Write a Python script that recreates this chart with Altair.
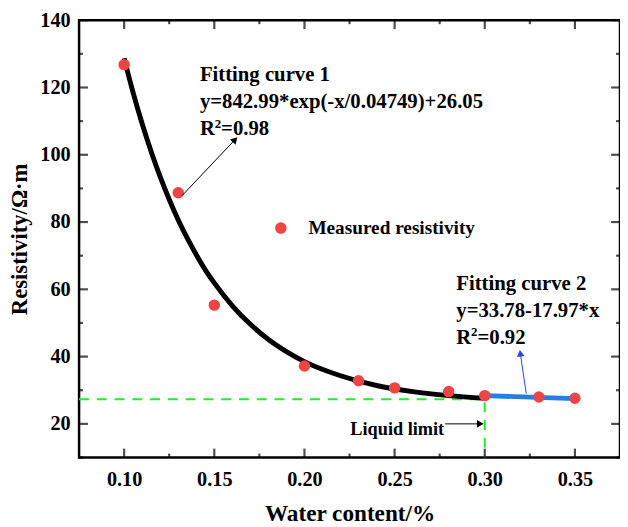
import altair as alt
import pandas as pd

FONT = "Liberation Serif"

# measured points
water = [0.10, 0.13, 0.15, 0.20, 0.23, 0.25, 0.28, 0.30, 0.33, 0.35]
resist = [126.8, 88.7, 55.3, 37.2, 32.8, 30.7, 29.6, 28.4, 28.0, 27.6]

# fitting curve 1
c1_x = [0.10, 0.105, 0.11, 0.115, 0.12, 0.125, 0.13, 0.135, 0.14, 0.145, 0.15,
        0.16, 0.17, 0.18, 0.19, 0.20, 0.22, 0.24, 0.26, 0.28, 0.30]
c1_y = [128.7, 118.4, 109.2, 100.9, 93.4, 86.7, 80.6, 75.2, 70.3, 65.8, 61.9,
        55.1, 49.6, 45.1, 41.5, 38.5, 34.3, 31.4, 29.6, 28.4, 27.6]

# fitting curve 2
c2_x = [0.30, 0.35]
c2_y = [28.4, 27.5]

# liquid limit guide
ll_x = [0.075, 0.30, 0.30]
ll_y = [27.3, 27.3, 10]

x_major = [0.10, 0.15, 0.20, 0.25, 0.30, 0.35]
x_minor = [0.125, 0.175, 0.225, 0.275, 0.325, 0.375]
y_major = [20, 40, 60, 80, 100, 120, 140]
y_minor = [10, 30, 50, 70, 90, 110, 130]

W, H = 548, 443
xs = alt.Scale(domain=[0.075, 0.375], nice=False, zero=False)
ys = alt.Scale(domain=[10, 140], nice=False, zero=False)

pts = pd.DataFrame({"x": water, "y": resist})
c1 = pd.DataFrame({"x": c1_x, "y": c1_y, "o": list(range(len(c1_x)))})
c2 = pd.DataFrame({"x": c2_x, "y": c2_y})
ll = pd.DataFrame({"x": ll_x, "y": ll_y, "o": [0, 1, 2]})

X = lambda f: alt.X(f, scale=xs)
Y = lambda f: alt.Y(f, scale=ys)

base_axes = alt.Chart(pts).mark_point(opacity=0).encode(
    x=alt.X("x:Q", scale=xs, title="Water content/%",
            axis=alt.Axis(values=x_major, format=".2f", domain=False, ticks=False, grid=False,
                          labelFont=FONT, labelFontSize=20.5, labelFontWeight="bold", labelColor="black",
                          labelPadding=12, titleFont=FONT, titleFontSize=23.5, titleFontWeight="bold",
                          titleColor="black", titlePadding=12)),
    y=alt.Y("y:Q", scale=ys, title="Resistivity/Ω·m",
            axis=alt.Axis(values=y_major, domain=False, ticks=False, grid=False,
                          labelFont=FONT, labelFontSize=20.5, labelFontWeight="bold", labelColor="black",
                          labelPadding=9, titleFont=FONT, titleFontSize=23, titleFontWeight="bold",
                          titleColor="black", titlePadding=8)),
)

guide = alt.Chart(ll).mark_line(color="#22ee22", strokeWidth=2, strokeDash=[10, 8]).encode(
    x=X("x:Q"), y=Y("y:Q"), order="o:Q")

curve1 = alt.Chart(c1).mark_line(color="black", strokeWidth=5, interpolate="monotone").encode(
    x=X("x:Q"), y=Y("y:Q"), order="o:Q")

curve2 = alt.Chart(c2).mark_line(color="#2b7ddc", strokeWidth=5).encode(
    x=X("x:Q"), y=Y("y:Q"))

points = alt.Chart(pts).mark_circle(color="#ee4444", size=135, opacity=1).encode(
    x=X("x:Q"), y=Y("y:Q"))

# arrows
arr = pd.DataFrame({
    "x": [0.1322, 0.323, 0.278], "y": [87.9, 29.0, 20.0],
    "x2": [0.1615, 0.3197, 0.2975], "y2": [104.5, 41.0, 20.0],
    "c": ["black", "#2244ee", "black"], "a": [43.5, 352.0, 90.0],
})
arrow_lines = alt.Chart(arr).mark_rule(strokeWidth=1).encode(
    x=X("x:Q"), y=Y("y:Q"), x2="x2:Q", y2="y2:Q", color=alt.Color("c:N", scale=None))
arrow_heads = alt.Chart(arr).mark_point(shape="triangle-up", filled=True, size=60, opacity=1).encode(
    x=X("x2:Q"), y=Y("y2:Q"),
    color=alt.Color("c:N", scale=None), angle=alt.Angle("a:Q", scale=None))

# texts
txt = pd.DataFrame({
    "x": [0.142, 0.142, 0.2842, 0.2842],
    "y": [123.6, 115.7, 61.5, 53.6],
    "t": ["Fitting curve 1", "y=842.99*exp(-x/0.04749)+26.05",
          "Fitting curve 2", "y=33.78-17.97*x"],
})
def tmark(df, size, align="left", dx=0, dy=0):
    return alt.Chart(df).mark_text(align=align, baseline="middle", font=FONT, fontSize=size,
                                   fontWeight="bold", color="black", dx=dx, dy=dy).encode(
        x=X("x:Q"), y=Y("y:Q"), text="t:N")

texts = tmark(txt, 21)

r2 = pd.DataFrame({"x": [0.142, 0.2842], "y": [107.5, 45.4]})
r2_R = tmark(r2.assign(t="R"), 21)
r2_sup = tmark(r2.assign(t="2"), 13, dx=15, dy=-6)
r2_val = tmark(r2.assign(t=["=0.98", "=0.92"]), 21, dx=21.5)

leg_txt = pd.DataFrame({"x": [0.2022], "y": [78.2], "t": ["Measured resistivity"]})
leg_text = tmark(leg_txt, 19.5)

ll_txt = pd.DataFrame({"x": [0.2775], "y": [18.4], "t": ["Liquid limit"]})
ll_text = tmark(ll_txt, 18.5, align="right")

leg = pd.DataFrame({"x": [0.1869], "y": [78.2]})
leg_dot = alt.Chart(leg).mark_circle(color="#ee4444", size=135, opacity=1).encode(
    x=X("x:Q"), y=Y("y:Q"))

# inward ticks
xmj = pd.DataFrame({"v": x_major})
xmn = pd.DataFrame({"v": x_minor})
ymj = pd.DataFrame({"v": y_major})
ymn = pd.DataFrame({"v": y_minor})

def xt(df, size, ypix):
    return alt.Chart(df).mark_tick(orient="vertical", size=size, thickness=2.2, color="black").encode(
        x=X("v:Q"), y=alt.value(ypix))

def yt(df, size, xpix):
    return alt.Chart(df).mark_tick(orient="horizontal", size=size, thickness=2.2, color="black").encode(
        y=Y("v:Q"), x=alt.value(xpix))

ticks = [
    xt(xmj, 9, H - 4.5), xt(xmn, 4, H - 2), xt(xmj, 9, 4.5), xt(xmn, 4, 2),
    yt(ymj, 9, 4.5), yt(ymn, 4, 2), yt(ymj, 9, W - 4.5), yt(ymn, 4, W - 2),
]

chart = alt.layer(base_axes, guide, curve1, curve2, points, arrow_lines, arrow_heads,
                  texts, r2_R, r2_sup, r2_val, leg_text, ll_text, leg_dot, *ticks).properties(
    width=W, height=H, autosize="none", background="white",
    padding={"left": 72, "top": 9, "right": 0, "bottom": 66},
).configure_view(stroke="black", strokeWidth=2.5)

chart.save("out.html", embed_options={"renderer": "svg", "actions": False})
